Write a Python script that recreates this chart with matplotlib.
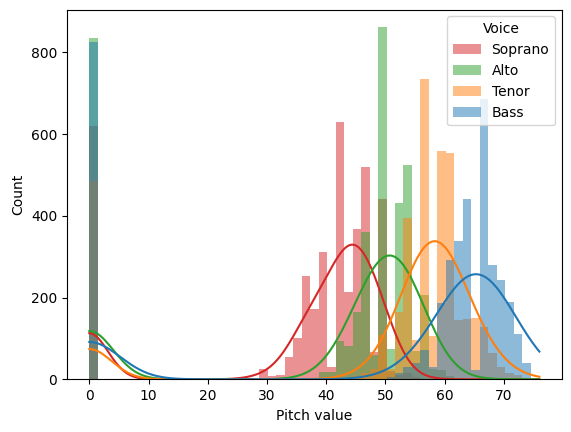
import numpy as np
import pandas as pd
import matplotlib
matplotlib.use("Agg")
import matplotlib.pyplot as plt
import seaborn as sns

# 53 shared bins over 0..76, counts read per bin
edges = np.linspace(0, 76, 54)
lo = np.ceil(edges[:-1])
hi = np.ceil(edges[1:]) - 1
pitch = (lo + hi) / 2   # mean integer pitch in each bin
pitch[0] = 0            # rests
pitch[-1] = 76          # top note

soprano = [620, 0, 0, 0, 0, 0, 0, 0, 0, 0,
           0, 0, 0, 0, 0, 0, 0, 0, 0, 0,
           25, 8, 10, 54, 100, 252, 171, 312, 29, 630,
           214, 367, 520, 67, 441, 20, 10, 15, 5, 0,
           0, 0, 0, 0, 0, 0, 0, 0, 0, 0,
           0, 0, 0]
alto = [835, 0, 0, 0, 0, 0, 0, 0, 0, 0,
        0, 0, 0, 0, 0, 0, 0, 0, 0, 0,
        0, 0, 0, 0, 0, 0, 0, 18, 17, 94,
        81, 165, 361, 60, 862, 75, 432, 524, 70, 206,
        25, 22, 8, 3, 0, 0, 0, 0, 0, 0,
        0, 0, 0]
tenor = [485, 0, 0, 0, 0, 0, 0, 0, 0, 0,
         0, 0, 0, 0, 0, 0, 0, 0, 0, 0,
         0, 0, 0, 0, 0, 0, 0, 0, 0, 0,
         5, 8, 15, 25, 108, 25, 165, 394, 95, 736,
         105, 558, 554, 145, 147, 150, 127, 65, 30, 15,
         10, 4, 3]
bass = [825, 0, 0, 0, 0, 0, 0, 0, 0, 0,
        0, 0, 0, 0, 0, 0, 0, 0, 0, 0,
        0, 0, 0, 0, 0, 0, 0, 0, 0, 0,
        0, 0, 0, 0, 0, 5, 15, 31, 40, 72,
        30, 186, 292, 338, 441, 23, 685, 279, 244, 190,
        110, 39, 0]

voices = ['Bass', 'Tenor', 'Alto', 'Soprano']
counts = {'Soprano': soprano, 'Alto': alto, 'Tenor': tenor, 'Bass': bass}

df = pd.DataFrame({
    'Pitch value': np.concatenate([np.repeat(pitch, counts[v]) for v in voices]),
    'Voice': np.concatenate([[v] * sum(counts[v]) for v in voices]),
})

fig = plt.figure(figsize=(5.71, 4.32), dpi=100)
ax = fig.add_axes([0.117, 0.122, 0.867, 0.856])
sns.histplot(data=df, x='Pitch value', hue='Voice', hue_order=voices,
             bins=edges, kde=True, linewidth=0, ax=ax)

# legend listed top voice first
leg = ax.get_legend()
handles = leg.legend_handles[::-1]
labels = [t.get_text() for t in leg.get_texts()][::-1]
ax.legend(handles, labels, title='Voice', loc='upper right')

fig.savefig('out.png', dpi=100)
